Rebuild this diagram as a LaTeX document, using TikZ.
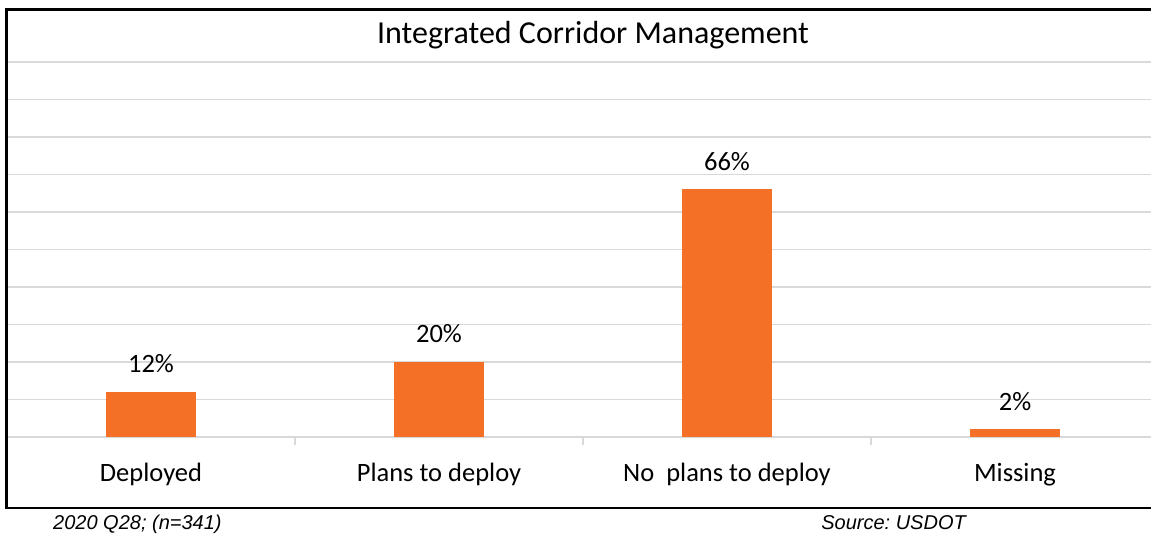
\documentclass[tikz,border=0pt]{standalone}
\usepackage{fontspec}
\setmainfont{Carlito}
\newfontfamily\notefont{Liberation Sans}
\usetikzlibrary{positioning}
\frenchspacing
\definecolor{barorange}{RGB}{243,112,38}
\definecolor{gridgray}{RGB}{217,217,217}
\tikzset{
  gridline/.style={draw=gridgray, line width=1.5pt},
  axistick/.style={draw=gridgray, line width=1.5pt},
  bar/.style={fill=barorange, draw=none, inner sep=0pt, minimum width=90pt, anchor=south},
  vallabel/.style={font=\fontsize{26.5}{31}\selectfont, inner sep=0pt},
  catlabel/.style={font=\fontsize{26.5}{31}\selectfont, inner sep=0pt, anchor=base},
  charttitle/.style={font=\fontsize{32}{38}\selectfont, inner sep=0pt, anchor=base},
  footnote/.style={font=\notefont\itshape\fontsize{20}{24}\selectfont, inner sep=0pt}
}
\begin{document}
\begin{tikzpicture}[x=1pt, y=-1pt]
\useasboundingbox (0,0) rectangle (1151,537);
\clip (0,0) rectangle (1151,537);
\fill[white] (0,0) rectangle (1151,537);

% horizontal grid, 10% per line, baseline at 437
\foreach \v in {10,20,...,100}
  \draw[gridline] (7,{437-3.75*\v}) -- (1151,{437-3.75*\v});
\draw[gridline] (7,437) -- (1151,437);
% category separators
\foreach \x in {295,583,871}
  \draw[axistick] (\x,437) -- (\x,445);

% chart frame
\draw[black, line width=2.2pt] (6.5,9.5) rectangle (1160,508);

% title
\node[charttitle] (title) at (593,44) {Integrated Corridor Management};

% bars
\node[bar, minimum height=45pt]    (b1) at (151,437) {};
\node[bar, minimum height=75pt]    (b2) at (439,437) {};
\node[bar, minimum height=247.5pt] (b3) at (727,437) {};
\node[bar, minimum height=7.5pt]   (b4) at (1015,437) {};

% value labels
\node[vallabel, above=19pt of b1, anchor=base] (v1) {12\%};
\node[vallabel, above=19pt of b2, anchor=base] (v2) {20\%};
\node[vallabel, above=19pt of b3, anchor=base] (v3) {66\%};
\node[vallabel, above=19pt of b4, anchor=base] (v4) {2\%};

% category labels
\node[catlabel] (c1) at (151,481) {Deployed};
\node[catlabel] (c2) at (439,481) {Plans to deploy};
\node[catlabel] (c3) at (727,481) {No\ \ plans to deploy};
\node[catlabel] (c4) at (1015,481) {Missing};

% notes under the frame
\node[footnote, anchor=base west] (n1) at (53,529) {2020 Q28; (n=341)};
\node[footnote, anchor=base east] (n2) at (966,529) {Source: USDOT};
\end{tikzpicture}
\end{document}
